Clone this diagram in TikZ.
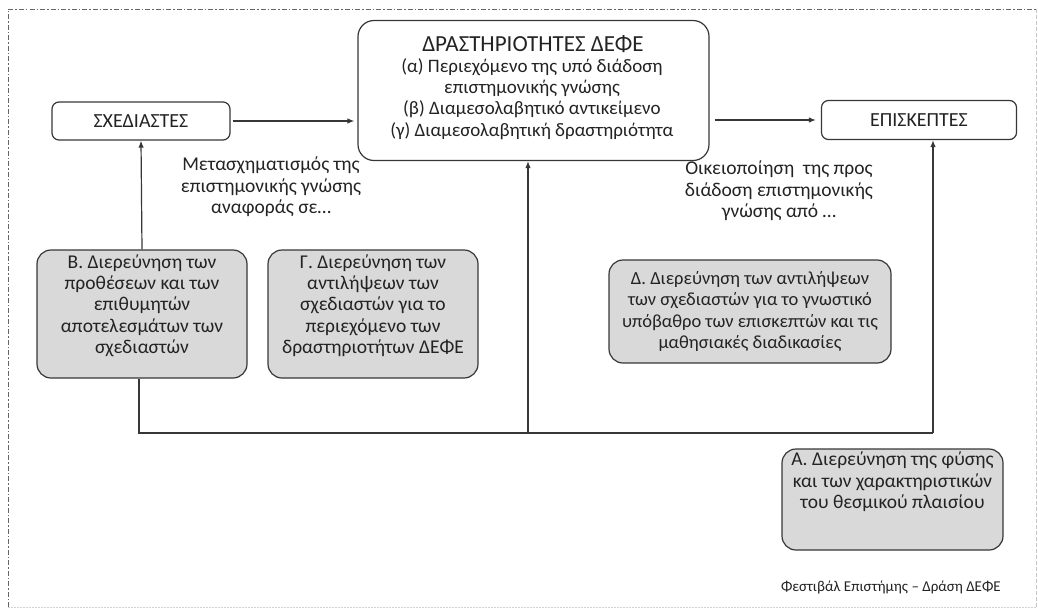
\documentclass[tikz,border=0pt]{standalone}
\usepackage{fontspec}
\setmainfont{Carlito}
\usetikzlibrary{arrows.meta}
\definecolor{boxgray}{RGB}{217,217,217}
\definecolor{linegray}{RGB}{55,55,55}
\definecolor{txtgray}{RGB}{35,35,35}
\tikzset{
  plainbox/.style={draw=linegray, line width=1.2pt, rounded corners=7pt, fill=white, text=txtgray, inner sep=0pt, align=center},
  graybox/.style={draw=linegray, line width=1.2pt, rounded corners=14pt, fill=boxgray, text=txtgray, inner sep=0pt, align=center, font=\fontsize{19.5}{21.4}\selectfont},
  lbl/.style={text=txtgray, align=center, inner sep=0pt, font=\fontsize{19.5}{21.4}\selectfont},
  conn/.style={draw=linegray, line width=1.2pt},
  arr/.style={conn, -{Latex[length=7pt,width=5.5pt]}}
}
\begin{document}
\begin{tikzpicture}[x=1pt,y=-1pt]
\useasboundingbox (0,0) rectangle (1038,611);
% frame
\draw[gray!80!black, line width=0.8pt, dash pattern=on 5pt off 2pt on 1.5pt off 2pt] (8,607) -- (8,9) -- (1036,9);
\draw[gray!45, line width=0.8pt, dash pattern=on 4pt off 2pt] (1036,9) -- (1036,607);
\draw[gray!35, line width=0.8pt, dash pattern=on 1.5pt off 1.5pt] (8,607) -- (1036,607);
% main nodes
\node[plainbox, minimum width=178pt, minimum height=38pt, font=\fontsize{20}{22}\selectfont] (sx) at (141,121) {ΣΧΕΔΙΑΣΤΕΣ};
\node[plainbox, minimum width=351pt, minimum height=140pt, rounded corners=16pt] (cb) at (533.5,90.5) {};
\node[text=txtgray, inner sep=0pt, align=center, font=\fontsize{23}{24}\selectfont] (cbt) at (533,44) {ΔΡΑΣΤΗΡΙΟΤΗΤΕΣ ΔΕΦΕ};
\node[lbl, anchor=north, font=\fontsize{19}{21.4}\selectfont] (cbl) at (532,58) {(α) Περιεχόμενο της υπό διάδοση\\επιστημονικής γνώσης\\(β) Διαμεσολαβητικό αντικείμενο\\(γ) Διαμεσολαβητική δραστηριότητα};
\node[plainbox, minimum width=195pt, minimum height=39pt, font=\fontsize{20}{22}\selectfont] (ep) at (919,120) {ΕΠΙΣΚΕΠΤΕΣ};
% labels
\node[lbl] (l1) at (271,187) {Μετασχηματισμός της\\επιστημονικής γνώσης\\αναφοράς σε…};
\node[lbl] (l2) at (779,191) {Οικειοποίηση\ \ της προς\\διάδοση επιστημονικής\\γνώσης από …};
% gray boxes
\node[graybox, minimum width=210pt, minimum height=128pt] (B) at (142,314) {Β. Διερεύνηση των\\προθέσεων και των\\επιθυμητών\\αποτελεσμάτων των\\σχεδιαστών\\[-8pt]\strut};
\node[graybox, minimum width=210pt, minimum height=128pt] (G) at (373,314) {Γ. Διερεύνηση των\\αντιλήψεων των\\σχεδιαστών για το\\περιεχόμενο των\\δραστηριοτήτων ΔΕΦΕ\\[-8pt]\strut};
\node[graybox, minimum width=282pt, minimum height=103pt, font=\fontsize{18.5}{21.4}\selectfont] (D) at (750,311.5) {Δ. Διερεύνηση των αντιλήψεων\\των σχεδιαστών για το γνωστικό\\υπόβαθρο των επισκεπτών και τις\\μαθησιακές διαδικασίες};
\node[graybox, minimum width=221pt, minimum height=101pt] (A) at (892.5,499.5) {};
\node[lbl, anchor=north] (At) at (892.5,452) {Α. Διερεύνηση της φύσης\\και των χαρακτηριστικών\\του θεσμικού πλαισίου};
% footer
\node[text=txtgray, inner sep=0pt, anchor=east, font=\fontsize{15}{17}\selectfont] (ft) at (1001,588) {Φεστιβάλ Επιστήμης – Δράση ΔΕΦΕ};
% junctions
\coordinate (jB) at (139,433);
\coordinate (jC) at (528,433);
\coordinate (jE) at (933,433);
% connectors
\draw[arr] ([xshift=2pt]sx.east) -- ([xshift=-3pt]sx.east -| cb.west);
\draw[arr] ([xshift=5pt]cb.east |- ep.west) -- ([xshift=-5pt]ep.west);
\draw[arr] (B.north) -- (sx.south);
\draw[conn] (B.south -| jB) -- (jB) -- (jE);
\draw[arr] (jC) -- (jC |- cb.south);
\draw[arr] (jE) -- (jE |- ep.south);
\end{tikzpicture}
\end{document}
